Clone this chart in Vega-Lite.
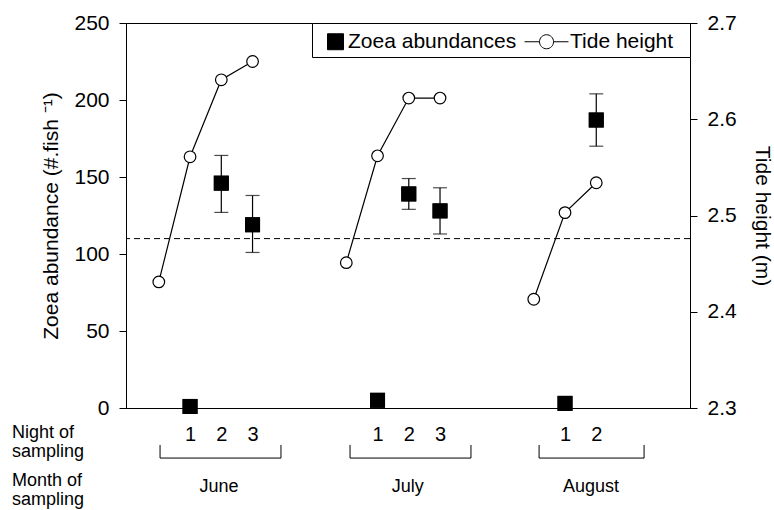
{
  "$schema": "https://vega.github.io/schema/vega-lite/v6.json",
  "width": 564,
  "height": 385,
  "autosize": {"type": "none"},
  "padding": {"left": 126, "top": 23, "right": 84, "bottom": 102},
  "background": "white",
  "config": {
    "font": "Liberation Sans",
    "view": {"stroke": "black", "strokeWidth": 1},
    "axis": {
      "grid": false,
      "domainColor": "black",
      "tickColor": "black",
      "labelColor": "black",
      "titleColor": "black",
      "labelFontSize": 21,
      "titleFontSize": 21,
      "titleFontWeight": "normal",
      "tickSize": 7,
      "labelPadding": 3,
      "domainWidth": 1,
      "tickWidth": 1
    },
    "legend": {
      "labelFontSize": 21,
      "labelColor": "black",
      "labelLimit": 400,
      "symbolSize": 676,
      "strokeColor": "black",
      "fillColor": "white",
      "padding": 5,
      "columnPadding": 5,
      "labelOffset": 4,
      "symbolStrokeWidth": 1,
      "offset": 0
    }
  },
  "datasets": {
    "zoea": [
      {"month": "June", "night": 1, "slot": 1, "zoea": 1},
      {"month": "June", "night": 2, "slot": 2, "zoea": 146, "lo": 127, "hi": 164},
      {"month": "June", "night": 3, "slot": 3, "zoea": 119, "lo": 101, "hi": 138},
      {"month": "July", "night": 1, "slot": 7, "zoea": 5},
      {"month": "July", "night": 2, "slot": 8, "zoea": 139, "lo": 129, "hi": 149},
      {"month": "July", "night": 3, "slot": 9, "zoea": 128, "lo": 113, "hi": 143},
      {"month": "August", "night": 1, "slot": 13, "zoea": 3},
      {"month": "August", "night": 2, "slot": 14, "zoea": 187, "lo": 170, "hi": 204}
    ],
    "tide": [
      {"month": "June", "slot": 0, "tide": 2.431},
      {"month": "June", "slot": 1, "tide": 2.561},
      {"month": "June", "slot": 2, "tide": 2.641},
      {"month": "June", "slot": 3, "tide": 2.66},
      {"month": "July", "slot": 6, "tide": 2.451},
      {"month": "July", "slot": 7, "tide": 2.562},
      {"month": "July", "slot": 8, "tide": 2.622},
      {"month": "July", "slot": 9, "tide": 2.622},
      {"month": "August", "slot": 12, "tide": 2.413},
      {"month": "August", "slot": 13, "tide": 2.503},
      {"month": "August", "slot": 14, "tide": 2.534}
    ],
    "months": [
      {"month": "June", "start": 0.04, "end": 3.91, "center": 1.93},
      {"month": "July", "start": 6.12, "end": 9.99, "center": 7.97},
      {"month": "August", "start": 12.17, "end": 15.53, "center": 13.83}
    ],
    "series": [
      {"series": "Zoea abundances"},
      {"series": "Tide height"}
    ]
  },
  "layer": [
    {
      "layer": [
        {
          "data": {"name": "zoea"},
          "mark": {"type": "point", "shape": "square", "filled": true, "color": "black", "size": 225, "opacity": 1},
          "encoding": {
            "x": {
              "field": "slot", "type": "quantitative",
              "scale": {"domain": [-1.05, 17], "nice": false, "zero": false},
              "axis": {
                "values": [1, 2, 3, 7, 8, 9, 13, 14],
                "labelExpr": "datum.value < 5 ? datum.value : (datum.value < 11 ? datum.value - 6 : datum.value - 12)",
                "ticks": false,
                "tickSize": 0,
                "labelPadding": 16,
                "labelFontSize": 20,
                "labelAngle": 0,
                "title": null,
                "labelFlush": false,
                "labelOverlap": false
              }
            },
            "y": {
              "field": "zoea", "type": "quantitative",
              "scale": {"domain": [0, 250], "nice": false},
              "axis": {
                "values": [0, 50, 100, 150, 200, 250],
                "title": "Zoea abundance (#.fish ⁻¹)",
                "labelPadding": 10,
                "titlePadding": 12
              }
            }
          }
        },
        {
          "data": {"values": [{"ref": 110}]},
          "mark": {"type": "rule", "strokeDash": [6, 4], "strokeWidth": 1, "color": "black"},
          "encoding": {
            "y": {"field": "ref", "type": "quantitative"}
          }
        },
        {
          "data": {"name": "zoea"},
          "transform": [{"filter": "isValid(datum.lo)"}],
          "mark": {"type": "rule", "color": "black", "strokeWidth": 1.2},
          "encoding": {
            "x": {"field": "slot", "type": "quantitative"},
            "y": {"field": "lo", "type": "quantitative"},
            "y2": {"field": "hi"}
          }
        },
        {
          "data": {"name": "zoea"},
          "transform": [{"filter": "isValid(datum.lo)"}],
          "mark": {"type": "tick", "orient": "horizontal", "color": "black", "size": 14, "thickness": 1.2},
          "encoding": {
            "x": {"field": "slot", "type": "quantitative"},
            "y": {"field": "lo", "type": "quantitative"}
          }
        },
        {
          "data": {"name": "zoea"},
          "transform": [{"filter": "isValid(datum.hi)"}],
          "mark": {"type": "tick", "orient": "horizontal", "color": "black", "size": 14, "thickness": 1.2},
          "encoding": {
            "x": {"field": "slot", "type": "quantitative"},
            "y": {"field": "hi", "type": "quantitative"}
          }
        },
        {
          "data": {"name": "zoea"},
          "mark": {"type": "point", "shape": "square", "filled": true, "color": "black", "size": 225, "opacity": 1},
          "encoding": {
            "x": {"field": "slot", "type": "quantitative"},
            "y": {"field": "zoea", "type": "quantitative"}
          }
        },
        {
          "data": {"name": "months"},
          "mark": {"type": "rule", "color": "black", "strokeWidth": 1},
          "encoding": {
            "x": {"field": "start", "type": "quantitative"},
            "x2": {"field": "end"},
            "y": {"datum": -32.5, "type": "quantitative"}
          }
        },
        {
          "data": {"name": "months"},
          "mark": {"type": "rule", "color": "black", "strokeWidth": 1},
          "encoding": {
            "x": {"field": "start", "type": "quantitative"},
            "y": {"datum": -32.5, "type": "quantitative"},
            "y2": {"datum": -24}
          }
        },
        {
          "data": {"name": "months"},
          "mark": {"type": "rule", "color": "black", "strokeWidth": 1},
          "encoding": {
            "x": {"field": "end", "type": "quantitative"},
            "y": {"datum": -32.5, "type": "quantitative"},
            "y2": {"datum": -24}
          }
        },
        {
          "data": {"name": "months"},
          "mark": {"type": "text", "fontSize": 18, "color": "black", "baseline": "middle", "align": "center"},
          "encoding": {
            "x": {"field": "center", "type": "quantitative"},
            "y": {"datum": -51.3, "type": "quantitative"},
            "text": {"field": "month"}
          }
        },
        {
          "data": {"values": [{"label": "Night of\nsampling"}]},
          "mark": {"type": "text", "fontSize": 18, "color": "black", "baseline": "top", "align": "left", "lineBreak": "\n", "lineHeight": 19},
          "encoding": {
            "x": {"datum": -4.7, "type": "quantitative"},
            "y": {"datum": -10.4, "type": "quantitative"},
            "text": {"field": "label"}
          }
        },
        {
          "data": {"values": [{"label": "Month of\nsampling"}]},
          "mark": {"type": "text", "fontSize": 18, "color": "black", "baseline": "top", "align": "left", "lineBreak": "\n", "lineHeight": 19},
          "encoding": {
            "x": {"datum": -4.7, "type": "quantitative"},
            "y": {"datum": -41.5, "type": "quantitative"},
            "text": {"field": "label"}
          }
        },
        {
          "data": {"name": "series"},
          "mark": {"type": "point", "filled": true, "opacity": 1, "strokeWidth": 1, "clip": true},
          "encoding": {
            "x": {"datum": 0, "type": "quantitative"},
            "y": {"datum": -1000, "type": "quantitative"},
            "shape": {
              "field": "series", "type": "nominal",
              "scale": {
                "domain": ["Zoea abundances", "Tide height"],
                "range": ["M-0.23,-0.615H1V0.615H-0.23Z", "M-2.15,0H-1M0.08,0H1.23M-1,0A0.54,0.54 0 1 0 0.08,0A0.54,0.54 0 1 0 -1,0ZM10,0"]
              },
              "legend": {"title": null, "orient": "top-right", "direction": "horizontal"}
            },
            "fill": {
              "field": "series", "type": "nominal",
              "scale": {"domain": ["Zoea abundances", "Tide height"], "range": ["black", "white"]},
              "legend": {"title": null, "orient": "top-right", "direction": "horizontal"}
            },
            "stroke": {
              "field": "series", "type": "nominal",
              "scale": {"domain": ["Zoea abundances", "Tide height"], "range": ["black", "black"]},
              "legend": {"title": null, "orient": "top-right", "direction": "horizontal"}
            }
          }
        }
      ]
    },
    {
      "data": {"name": "tide"},
      "layer": [
        {
          "mark": {"type": "line", "color": "black", "strokeWidth": 1.2},
          "encoding": {
            "x": {"field": "slot", "type": "quantitative"},
            "y": {"field": "tide", "type": "quantitative", "scale": {"domain": [2.3, 2.7], "nice": false, "zero": false}},
            "detail": {"field": "month"}
          }
        },
        {
          "mark": {"type": "point", "shape": "circle", "filled": true, "fill": "white", "stroke": "black", "strokeWidth": 1.2, "size": 135, "opacity": 1},
          "encoding": {
            "x": {"field": "slot", "type": "quantitative"},
            "y": {
              "field": "tide", "type": "quantitative",
              "scale": {"domain": [2.3, 2.7], "nice": false, "zero": false},
              "axis": {
                "orient": "right",
                "values": [2.3, 2.4, 2.5, 2.6, 2.7],
                "format": ".1f",
                "title": "Tide height (m)",
                "labelPadding": 10,
                "titlePadding": 15
              }
            }
          }
        }
      ]
    }
  ],
  "resolve": {"scale": {"y": "independent"}, "axis": {"y": "independent"}}
}
